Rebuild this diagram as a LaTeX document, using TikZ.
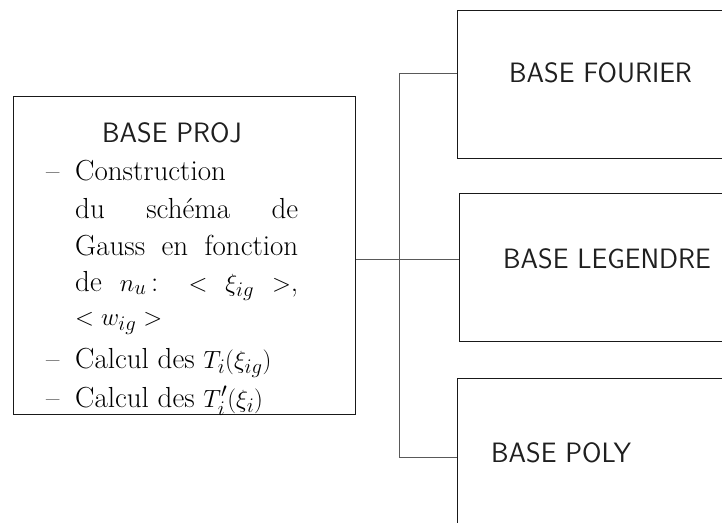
\documentclass[tikz,border=0pt]{standalone}
\usepackage{amsmath}
\DeclareMathSizes{29}{29}{22}{17}
\begin{document}
\begin{tikzpicture}[x=1pt,y=-1pt,
  boxstyle/.style={draw=black!90,line width=1pt,inner sep=0pt,anchor=north west},
  conn/.style={draw=black!65,line width=0.9pt},
  sanslab/.style={anchor=base west,inner sep=0pt,text=black!88,font=\sffamily\fontsize{28}{32}\selectfont},
  serline/.style={anchor=base west,inner sep=0pt,text=black,font=\fontsize{29}{33}\selectfont}]
\clip (0,0) rectangle (722,522);
\fill[white] (0,0) rectangle (722,522);
% boxes
\node[boxstyle,minimum width=342pt,minimum height=318pt] (proj) at (13,96) {};
\node[boxstyle,minimum width=330pt,minimum height=148pt] (fourier) at (457,10) {};
\node[boxstyle,minimum width=330pt,minimum height=148pt] (legendre) at (459,193) {};
\node[boxstyle,minimum width=330pt,minimum height=190pt] (poly) at (457,378) {};
% titles
\node[sanslab] (tproj) at (102,142) {BASE PROJ};
\node[sanslab] (tfourier) at (509,82) {BASE FOURIER};
\node[sanslab] (tlegendre) at (503,268) {BASE LEGENDRE};
\node[sanslab] (tpoly) at (491,462) {BASE POLY};
% item text
\node[serline] (d1) at (46,180) {--};
\node[serline] (l1) at (75,180) {Construction};
\node[serline] (l2) at (75,218) {\makebox[223pt][s]{du schéma de}};
\node[serline] (l3) at (75,255) {\makebox[223pt][s]{Gauss en fonction}};
\node[serline] (l4) at (75,291) {\makebox[223pt][s]{de $n_u$\,: $<$ $\xi_{ig}$ $>$,}};
\node[serline] (l5) at (75,325) {$<w_{ig}>$};
\node[serline] (d2) at (46,368) {--};
\node[serline] (l6) at (75,368) {Calcul des $T_i(\xi_{ig})$};
\node[serline] (d3) at (46,407) {--};
\node[serline] (l7) at (75,407) {Calcul des $T'_i(\xi_i)$};
% connectors
\coordinate (j) at (399,259);
\coordinate (jt) at (399,73);
\coordinate (jb) at (399,457);
\draw[conn] (j -| proj.east) -- (j -| legendre.west);
\draw[conn] (fourier.west |- jt) -- (jt) -- (jb) -- (jb -| poly.west);
\end{tikzpicture}
\end{document}
